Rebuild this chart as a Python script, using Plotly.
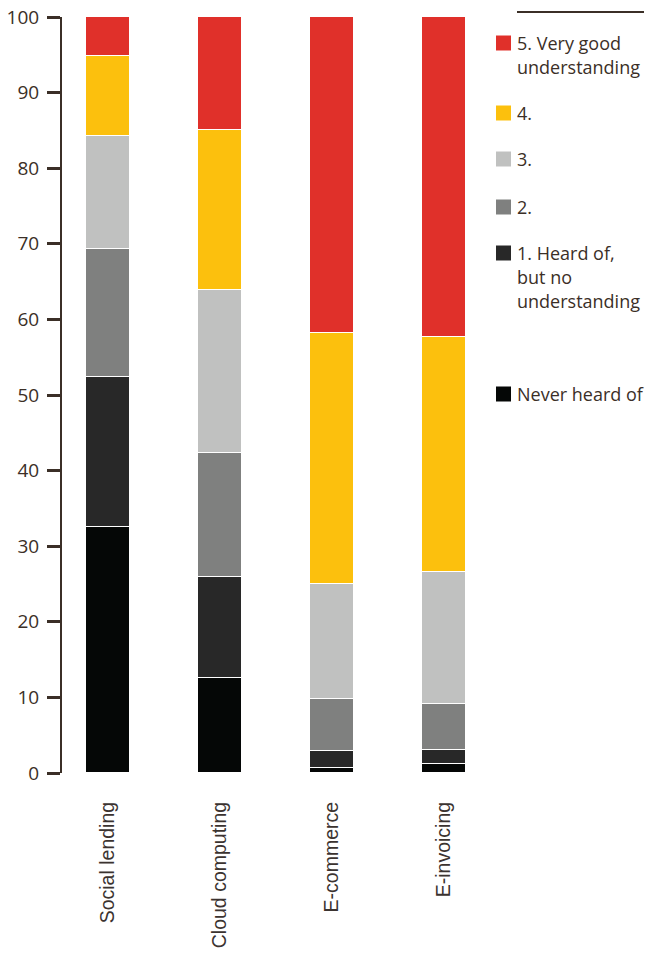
import plotly.graph_objects as go

categories = ["Social lending", "Cloud computing", "E-commerce", "E-invoicing"]
series_names = ["Never heard of", "1. Heard of, but no understanding", "2.", "3.", "4.",
                "5. Very good understanding"]
never_heard = [32.6, 12.6, 0.7, 1.2]
level1 = [19.8, 13.3, 2.25, 1.9]
level2 = [16.9, 16.4, 6.9, 6.0]
level3 = [15.0, 21.6, 15.1, 17.5]
level4 = [10.5, 21.2, 33.2, 31.1]
level5 = [5.2, 14.9, 41.9, 42.3]
values = [never_heard, level1, level2, level3, level4, level5]
y_ticks = [0, 10, 20, 30, 40, 50, 60, 70, 80, 90, 100]

colors = ["#050706", "#282828", "#7f807f", "#c0c1c0", "#fcc00d", "#e0302a"]
legend_lines = [["Never heard of"], ["1. Heard of,", "but no", "understanding"], ["2."], ["3."], ["4."],
                ["5. Very good", "understanding"]]
legend_top_px = [394, 253, 207, 159, 113, 43]

W, H = 646, 959
L, R, T, B = 62, 156, 17, 186
pw, ph = W - L - R, H - T - B
TXT = "#3b2f27"

def px(x):
    return (x - L) / pw

def py(y):
    return (H - B - y) / ph

fig = go.Figure()
for name, vals, col in zip(series_names, values, colors):
    fig.add_trace(go.Bar(x=categories, y=vals, name=name, marker=dict(color=col, line=dict(color="white", width=1)),
                         width=0.393, showlegend=False))

for lines, top, col in zip(legend_lines, legend_top_px, colors):
    fig.add_shape(type="rect", xref="paper", yref="paper", x0=px(496), x1=px(511), y0=py(top - 7.5), y1=py(top + 7.5),
                  fillcolor=col, line=dict(width=0))
    for i, t in enumerate(lines):
        fig.add_annotation(text=t, xref="paper", yref="paper", x=px(515), y=py(top + 24 * i), xanchor="left",
                           yanchor="middle", showarrow=False, font=dict(family="Open Sans", size=18, color=TXT))

fig.add_shape(type="line", xref="paper", yref="paper", x0=px(517), x1=px(644), y0=py(12), y1=py(12),
              line=dict(color=TXT, width=2))

# x range so that first bar center at pixel 108 and spacing 112
step = 112
x0 = -(108 - L) / step
x1 = x0 + pw / step
fig.update_layout(
    width=W, height=H, barmode="stack", bargap=0,
    margin=dict(l=L, r=R, t=T, b=B),
    plot_bgcolor="white", paper_bgcolor="white",
    xaxis=dict(range=[x0, x1], showline=False, showgrid=False, ticks="", tickangle=-90, automargin=False,
               ticklabelstandoff=24, tickfont=dict(family="Liberation Sans", size=19.5, color="#3b3330"),
               zeroline=False),
    yaxis=dict(range=[0, 100], tickvals=y_ticks, showline=True, linecolor=TXT, linewidth=2, automargin=False,
               ticks="outside", ticklen=13, tickwidth=3, tickcolor=TXT, showgrid=False, zeroline=False,
               tickfont=dict(family="Open Sans", size=19, color=TXT), ticklabelstandoff=4),
)
fig.write_html("out.html", config={"displayModeBar": False},
               post_script="document.body.style.margin='0';")
